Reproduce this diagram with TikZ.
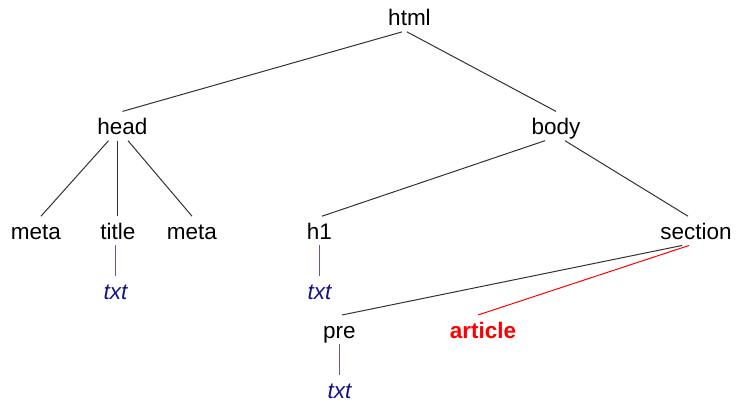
\documentclass[tikz,border=0pt]{standalone}
\usepackage{fontspec}
\setmainfont{Liberation Sans}
\usetikzlibrary{positioning}
\definecolor{txtblue}{RGB}{20,20,130}
\definecolor{txtline}{RGB}{90,90,180}
\definecolor{linegray}{RGB}{50,50,50}

\begin{document}
\begin{tikzpicture}[every node/.style = {inner sep=0pt, text height=11.5pt, text depth=2.75pt,
                                         font=\fontsize{11.25}{13.5}\selectfont},
  txtleaf/.style = {text=txtblue, font=\fontsize{11.25}{13.5}\selectfont\itshape},
  newelem/.style = {text=red, font=\fontsize{11.25}{13.5}\selectfont\bfseries},
  link/.style = {draw=linegray, line width=0.5pt},
  txtlink/.style = {draw=txtline, line width=0.6pt},
  newlink/.style = {draw=red, line width=0.5pt}]
  \useasboundingbox (-204.75pt,-191.375pt) rectangle (163.25pt,8.625pt);

  \node (html) at (0,0) {html};
  \node (head) [below=39.75pt of html, xshift=-143.5pt] {head};
  \node (body) [below=39.75pt of html, xshift=73.25pt] {body};
  \node (meta1) [below=37.75pt of head, xshift=-43.25pt] {meta};
  \node (title) [below=37.75pt of head, xshift=-2.25pt] {title};
  \node (meta2) [below=37.75pt of head, xshift=34.75pt] {meta};
  \node (h1) [below=37.75pt of body, xshift=-118.25pt] {h1};
  \node (section) [below=37.75pt of body, xshift=70pt] {section};
  \node (txt1) [txtleaf, below=15.25pt of title, xshift=-1.25pt] {txt};
  \node (txt2) [txtleaf, below=15.25pt of h1] {txt};
  \node (pre) [below=34.75pt of section, xshift=-178.25pt] {pre};
  \node (article) [newelem, below=34.75pt of section, xshift=-106.5pt] {article};
  \node (txt3) [txtleaf, below=15.25pt of pre] {txt};

  % tree edges
  \draw[link] ([xshift=-3.75pt]html.south) -- (head.north);
  \draw[link] ([xshift=-1.25pt]html.south) -- (body.north);
  \draw[link] ([xshift=-7pt]head.south) -- ([xshift=2.5pt]meta1.north);
  \draw[link] ([xshift=-2.25pt]head.south) -- (title.north);
  \draw[link] ([xshift=2.75pt]head.south) -- (meta2.north);
  \draw[link] ([xshift=-5.5pt]body.south) -- ([xshift=1.25pt]h1.north);
  \draw[link] ([xshift=4.5pt]body.south) -- ([xshift=-4pt]section.north);
  \draw[link] ([xshift=-7pt]section.south) -- ([xshift=1.25pt]pre.north);
  \draw[newlink] ([xshift=-3.5pt]section.south) -- ([xshift=-2.5pt]article.north);

  % text children
  \draw[txtlink] (txt1.north) -- (txt1.north |- title.south);
  \draw[txtlink] (txt2.north) -- (txt2.north |- h1.south);
  \draw[txtlink] (txt3.north) -- (txt3.north |- pre.south);

\end{tikzpicture}
\end{document}
